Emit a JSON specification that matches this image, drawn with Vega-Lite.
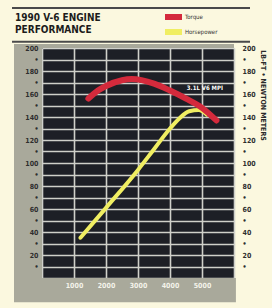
{
  "$schema": "https://vega.github.io/schema/vega-lite/v6.json",
  "width": 192,
  "height": 230,
  "autosize": {"type": "none"},
  "padding": {"left": 42, "top": 48, "right": 38, "bottom": 30},
  "background": "#fbf8df",
  "config": {
    "font": "Liberation Sans Narrow, DejaVu Sans Condensed, Liberation Sans, sans-serif",
    "view": {"fill": "#1d1f26", "stroke": null},
    "axis": {"domain": false, "ticks": false, "labelOverlap": false, "labelFontSize": 7, "labelFontWeight": "bold", "titleFontSize": 7, "titleFontWeight": "bold", "gridColor": "#cfd0ca", "gridOpacity": 1, "titleColor": "#2a2a2a"}
  },
  "datasets": {
    "one": [{}],
    "hp": [
      {"rpm": 1200, "hp": 35}, {"rpm": 2000, "hp": 61}, {"rpm": 3000, "hp": 94}, {"rpm": 3500, "hp": 112},
      {"rpm": 4000, "hp": 130}, {"rpm": 4300, "hp": 139}, {"rpm": 4600, "hp": 145}, {"rpm": 4900, "hp": 146}, {"rpm": 5150, "hp": 142}
    ],
    "torque": [
      {"rpm": 1450, "torque": 156}, {"rpm": 1750, "torque": 163}, {"rpm": 2000, "torque": 167}, {"rpm": 2500, "torque": 172},
      {"rpm": 2800, "torque": 173}, {"rpm": 3500, "torque": 169}, {"rpm": 4000, "torque": 163}, {"rpm": 4500, "torque": 156},
      {"rpm": 5000, "torque": 148}, {"rpm": 5450, "torque": 137}
    ]
  },
  "layer": [
    {
      "data": {"name": "one"},
      "mark": {"type": "rect", "color": "#a9a99b", "clip": false},
      "encoding": {
        "x": {"datum": -875, "type": "quantitative", "scale": {"domain": [0, 6000]}, "title": "ENGINE SPEED, RPM",
          "axis": {"values": [0, 1000, 2000, 3000, 4000, 5000, 6000], "labelExpr": "datum.value == 0 || datum.value == 6000 ? '' : datum.label", "format": "d", "grid": false, "zindex": 1, "labelColor": "#f4f3ea", "labelPadding": 3, "titleX": 93, "titleY": 19, "titleBaseline": "middle", "titleAlign": "center"}},
        "x2": {"datum": 6060},
        "y": {"datum": -21, "type": "quantitative", "scale": {"domain": [0, 200]}, "title": "OUTPUT • KILOWATTS",
          "axis": {"values": [10, 20, 30, 40, 50, 60, 70, 80, 90, 100, 110, 120, 130, 140, 150, 160, 170, 180, 190, 200], "labelExpr": "datum.value % 20 == 0 ? datum.label : '•'", "grid": false, "zindex": 1, "labelColor": "#2e2e2e", "labelPadding": 4, "titleAngle": 90, "titleX": -35, "titleY": 164, "titleAlign": "center", "titleBaseline": "middle"}},
        "y2": {"datum": 0}
      }
    },
    {
      "data": {"name": "one"},
      "mark": {"type": "rect", "color": "#a9a99b", "clip": false},
      "encoding": {
        "x": {"datum": -875, "type": "quantitative", "scale": {"domain": [0, 6000]}, "axis": null},
        "x2": {"datum": 0},
        "y": {"datum": 0, "type": "quantitative", "scale": {"domain": [0, 200]}, "axis": null},
        "y2": {"datum": 203.5}
      }
    },
    {
      "data": {"name": "one"},
      "mark": {"type": "rect", "color": "#a9a99b", "clip": false},
      "encoding": {
        "x": {"datum": 0, "type": "quantitative", "scale": {"domain": [0, 6000]}, "axis": null},
        "x2": {"datum": 6000},
        "y": {"datum": 200, "type": "quantitative", "scale": {"domain": [0, 200]}, "axis": null},
        "y2": {"datum": 203.5}
      }
    },
    {
      "data": {"name": "one"},
      "mark": {"type": "rule", "color": "#4a4a4a", "strokeWidth": 2, "clip": false},
      "encoding": {
        "x": {"datum": -937, "type": "quantitative", "scale": {"domain": [0, 6000]}, "axis": null},
        "x2": {"datum": 6500},
        "y": {"datum": 205.5, "type": "quantitative", "scale": {"domain": [0, 200]}, "axis": null}
      }
    },
    {
      "data": {"name": "one"},
      "mark": {"type": "rule", "color": "#4a4a4a", "strokeWidth": 2, "clip": false},
      "encoding": {
        "x": {"datum": -937, "type": "quantitative", "scale": {"domain": [0, 6000]}, "axis": null},
        "x2": {"datum": 6500},
        "y": {"datum": 234.8, "type": "quantitative", "scale": {"domain": [0, 200]}, "axis": null}
      }
    },
    {
      "data": {"name": "one"},
      "mark": {"type": "text", "color": "#1c1c1c", "fontSize": 10, "fontWeight": "bold", "align": "left", "baseline": "top", "lineHeight": 12.5, "clip": false},
      "encoding": {
        "x": {"datum": -844, "type": "quantitative", "scale": {"domain": [0, 6000]}, "axis": null},
        "y": {"datum": 230.5, "type": "quantitative", "scale": {"domain": [0, 200]}, "axis": null},
        "text": {"value": ["1990 V-6 ENGINE", "PERFORMANCE"]}
      }
    },
    {
      "data": {"name": "hp"},
      "mark": {"type": "line", "strokeWidth": 4, "interpolate": "monotone", "strokeCap": "round"},
      "encoding": {
        "x": {
          "field": "rpm", "type": "quantitative", "scale": {"domain": [0, 6000]},
          "axis": {"values": [0, 1000, 2000, 3000, 4000, 5000, 6000], "labels": false, "title": null, "grid": true, "gridWidth": 1.6, "zindex": 0}
        },
        "y": {
          "field": "hp", "type": "quantitative", "scale": {"domain": [0, 200]},
          "axis": {"values": [0, 10, 20, 30, 40, 50, 60, 70, 80, 90, 100, 110, 120, 130, 140, 150, 160, 170, 180, 190, 200], "labels": false, "title": null, "grid": true, "gridWidth": 1.4, "zindex": 0}
        },
        "color": {
          "datum": "Horsepower",
          "scale": {"domain": ["Torque", "Horsepower"], "range": ["#d42a3c", "#f0ee62"]},
          "legend": {"title": null, "orient": "none", "legendX": 123, "legendY": -36, "symbolType": "M-1.8,0L1.8,0", "symbolSize": 100, "symbolStrokeWidth": 6, "clipHeight": 10, "labelFontSize": 6, "labelColor": "#333333", "labelOffset": 4, "rowPadding": 5}
        }
      }
    },
    {
      "data": {"name": "torque"},
      "mark": {"type": "line", "strokeWidth": 6, "interpolate": "monotone", "strokeCap": "round"},
      "encoding": {
        "x": {"field": "rpm", "type": "quantitative", "scale": {"domain": [0, 6000]}, "axis": null},
        "y": {
          "field": "torque", "type": "quantitative", "scale": {"domain": [0, 200]}, "title": "LB-FT • NEWTON METERS",
          "axis": {"orient": "right", "values": [10, 20, 30, 40, 50, 60, 70, 80, 90, 100, 110, 120, 130, 140, 150, 160, 170, 180, 190, 200], "labelExpr": "datum.value % 20 == 0 ? datum.label : '•'", "grid": false, "zindex": 1, "labelColor": "#2e2e2e", "labelPadding": 8, "titleAngle": 90, "titleX": 28, "titleY": 47, "titleAlign": "center", "titleBaseline": "middle"}
        },
        "color": {"datum": "Torque"}
      }
    },
    {
      "data": {"name": "one"},
      "mark": {"type": "text", "color": "#ffffff", "fontSize": 6, "fontWeight": "bold"},
      "encoding": {
        "x": {"datum": 5090, "type": "quantitative", "scale": {"domain": [0, 6000]}, "axis": null},
        "y": {"datum": 165, "type": "quantitative", "scale": {"domain": [0, 200]}, "axis": null},
        "text": {"value": "3.1L V6 MPI"}
      }
    }
  ],
  "resolve": {"scale": {"x": "independent", "y": "independent"}}
}
